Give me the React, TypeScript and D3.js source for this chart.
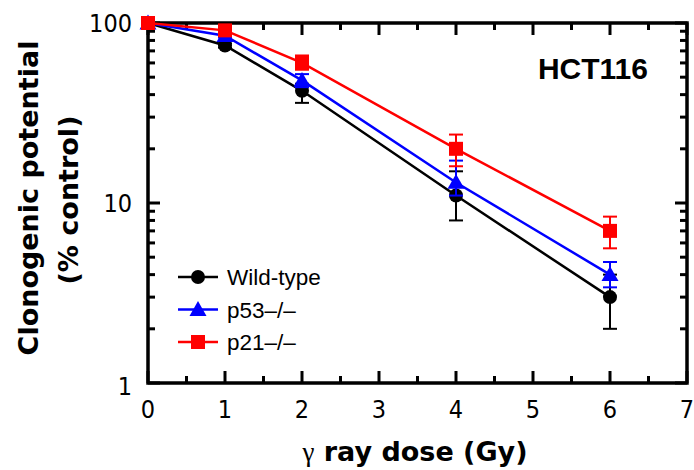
import React, { useEffect } from 'react';
import * as d3 from 'd3';

const doses = [0, 1, 2, 4, 6];
const xTicks = [0, 1, 2, 3, 4, 5, 6, 7];
const yTicks = [1, 10, 100];

const seriesNames = ['Wild-type', 'p53\u2013/\u2013', 'p21\u2013/\u2013'];
const seriesColors = ['#000000', '#0000ff', '#ff0000'];
const seriesShapes = ['circle', 'triangle', 'square'];

const wildType = [100, 75, 42, 11, 3];
const wildTypeLo = [100, 73, 36, 8, 2];
const wildTypeHi = [100, 77, 46, 15, 4];

const p53 = [100, 85, 48, 13, 4];
const p53Lo = [100, 83, 44, 11, 3.4];
const p53Hi = [100, 87, 52, 17.2, 4.7];

const p21 = [100, 91, 60, 20, 7];
const p21Lo = [100, 89, 55, 16, 5.6];
const p21Hi = [100, 93, 66, 24, 8.4];

const values = [wildType, p53, p21];
const lows = [wildTypeLo, p53Lo, p21Lo];
const highs = [wildTypeHi, p53Hi, p21Hi];

const margin = { left: 148, top: 23, right: 7, bottom: 87 };
const W = 694;
const H = 470;

function Marker({ shape, x, y, color }: { shape: string; x: number; y: number; color: string }) {
  if (shape === 'circle') return <circle cx={x} cy={y} r={7} fill={color} />;
  if (shape === 'square') return <rect x={x - 7} y={y - 7} width={14} height={14} fill={color} />;
  const s = 8.5;
  return (
    <path d={`M${x},${y - s}L${x + s},${y + s * 0.75}L${x - s},${y + s * 0.75}Z`} fill={color} />
  );
}

export default function App() {
  useEffect(() => {
    document.body.style.margin = '0';
  }, []);

  const x = d3.scaleLinear().domain([0, 7]).range([margin.left, W - margin.right]);
  const y = d3.scaleLog().domain([1, 100]).range([H - margin.bottom, margin.top]);
  const x0 = x(0), x1 = x(7), yb = y(1), yt = y(100);

  const minorX = d3.range(0.5, 7, 1);
  const minorY: number[] = [];
  [1, 10].forEach(d => { for (let k = 2; k <= 9; k++) minorY.push(d * k); });

  const line = d3.line<number>().x((_, i) => x(doses[i])).y(d => y(d));

  const tickFont = '"DejaVu Sans Condensed", "DejaVu Sans", sans-serif';
  const titleFont = '"DejaVu Sans", Verdana, sans-serif';
  const arial = '"Liberation Sans", Arial, sans-serif';

  return (
    <svg width={W} height={H} style={{ display: 'block', background: '#fff' }}>
      {/* ticks inward */}
      <g stroke="#000" strokeWidth={3}>
        {xTicks.map(t => (
          <g key={'xt' + t}>
            <line x1={x(t)} x2={x(t)} y1={yb} y2={yb - 12} />
            <line x1={x(t)} x2={x(t)} y1={yt} y2={yt + 12} />
          </g>
        ))}
        {minorX.map(t => (
          <g key={'xm' + t}>
            <line x1={x(t)} x2={x(t)} y1={yb} y2={yb - 7} />
            <line x1={x(t)} x2={x(t)} y1={yt} y2={yt + 7} />
          </g>
        ))}
        {yTicks.map(t => (
          <g key={'yt' + t}>
            <line x1={x0} x2={x0 + 12} y1={y(t)} y2={y(t)} />
            <line x1={x1} x2={x1 - 12} y1={y(t)} y2={y(t)} />
          </g>
        ))}
        {minorY.map(t => (
          <g key={'ym' + t}>
            <line x1={x0} x2={x0 + 7} y1={y(t)} y2={y(t)} />
            <line x1={x1} x2={x1 - 7} y1={y(t)} y2={y(t)} />
          </g>
        ))}
      </g>
      <rect x={x0} y={yt} width={x1 - x0} height={yb - yt} fill="none" stroke="#000" strokeWidth={3.5} />

      {/* tick labels */}
      <g fontFamily={tickFont} fontSize={25} fill="#000">
        {xTicks.map(t => (
          <text key={'xl' + t} x={x(t)} y={yb + 35} textAnchor="middle">{t}</text>
        ))}
        {yTicks.map(t => (
          <text key={'yl' + t} x={x0 - 16} y={y(t) + (t === 1 ? 12 : 9)} textAnchor="end">{t}</text>
        ))}
      </g>

      {/* series */}
      {values.map((vals, si) => (
        <g key={'s' + si}>
          <path d={line(vals) || ''} fill="none" stroke={seriesColors[si]} strokeWidth={2.5} />
          {doses.map((d, i) =>
            i === 0 ? null : (
              <g key={'e' + i} stroke={seriesColors[si]} strokeWidth={2}>
                <line x1={x(d)} x2={x(d)} y1={y(lows[si][i])} y2={y(highs[si][i])} />
                <line x1={x(d) - 7} x2={x(d) + 7} y1={y(lows[si][i])} y2={y(lows[si][i])} />
                <line x1={x(d) - 7} x2={x(d) + 7} y1={y(highs[si][i])} y2={y(highs[si][i])} />
              </g>
            )
          )}
          {doses.map((d, i) => (
            <Marker key={'m' + i} shape={seriesShapes[si]} x={x(d)} y={y(vals[i])} color={seriesColors[si]} />
          ))}
        </g>
      ))}

      {/* legend */}
      <g fontFamily={arial} fontSize={22.5}>
        {seriesNames.map((n, i) => (
          <g key={'lg' + i} transform={`translate(0,${277 + i * 32.5})`}>
            <line x1={178} x2={218} y1={0} y2={0} stroke={seriesColors[i]} strokeWidth={2.5} />
            <Marker shape={seriesShapes[i]} x={198} y={0} color={seriesColors[i]} />
            <text x={227} y={8} fill="#000">{n}</text>
          </g>
        ))}
      </g>

      <text x={648} y={79} textAnchor="end" fontFamily={arial} fontWeight="bold" fontSize={30}>
        HCT116
      </text>

      {/* axis titles */}
      <g fontFamily={titleFont} fontWeight="bold" fontSize={27} textAnchor="middle">
        <text transform="translate(38,198) rotate(-90)">Clonogenic potential</text>
        <text transform="translate(78,200) rotate(-90)">(% control)</text>
        <text x={415} y={461} fontSize={27}>
          <tspan fontWeight="normal" fontFamily='"Liberation Serif", serif'>γ</tspan> ray dose (Gy)
        </text>
      </g>
    </svg>
  );
}
